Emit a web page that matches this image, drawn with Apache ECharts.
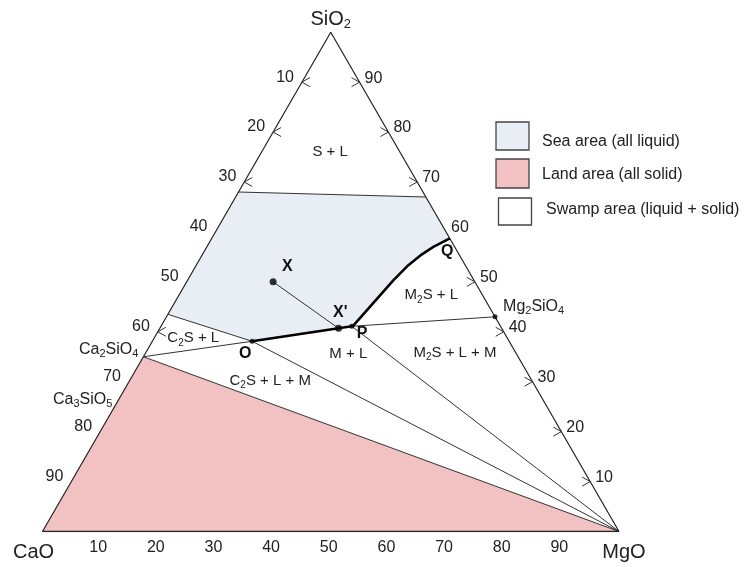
<!DOCTYPE html>
<html><head><meta charset="utf-8">
<script src="https://cdn.jsdelivr.net/npm/echarts@6/dist/echarts.min.js"></script>
<style>html,body{margin:0;padding:0;background:#fff}#c{width:748px;height:567px}</style>
</head><body><div id="c"></div>
<script>
// All compositions are [CaO, MgO, SiO2] in wt%
const vertexCaO = [100, 0, 0];
const vertexMgO = [0, 100, 0];
const vertexSiO2 = [0, 0, 100];
const ptCa2SiO4 = [65, 0, 35];
const ptCa3SiO5 = [73.7, 0, 26.3];
const ptMg2SiO4 = [0, 57, 43];
const ptX = [35.0, 15.0, 50.0];
const ptXp = [28.3, 31.0, 40.7];
const ptO = [44.6, 17.3, 38.1];
const ptP = [25.8, 33.1, 41.1];
const ptQ = [0, 41.3, 58.7];
const seaTopLeft = [32, 0, 68];
const seaTopRight = [0, 33, 67];
const seaLeftLow = [56.5, 0, 43.5];
// Liquidus curve from Q down to P (M2S / L boundary)
const curveQP = [[0, 41.3, 58.7], [3.7, 39.3, 57.0], [6.8, 37.9, 55.3], [10.2, 36.7, 53.1], [14.0, 35.7, 50.3], [17.8, 34.9, 47.3], [21.6, 34.1, 44.3], [25.4, 33.3, 41.3], [25.8, 33.1, 41.1]];
const tickValues = [10, 20, 30, 40, 50, 60, 70, 80, 90];
const leftArrowTicks = [10, 20, 30, 60];
const rightArrowTicks = [90, 80, 70, 50, 40, 30, 20, 10];
// region annotation anchors
const regionLabels = [
  ['{a|S + L}', [12.1, 11.9, 76.0]],
  ['{a|C}{b|2}{a|S + L}', [54.5, 6.8, 38.7]],
  ['{a|M}{b|2}{a|S + L}', [8.9, 43.8, 47.3]],
  ['{a|M + L}', [29.2, 35.3, 35.5]],
  ['{a|M}{b|2}{a|S + L + M}', [10.6, 53.7, 35.7]],
  ['{a|C}{b|2}{a|S + L + M}', [45.4, 24.4, 30.2]]
];
const pointLabels = [
  ['X', [31.0, 15.9, 53.1]],
  ["X'", [26.4, 29.7, 43.9]],
  ['Q', [1.8, 42.2, 56.0]],
  ['O', [47.0, 17.3, 35.7]],
  ['P', [24.7, 35.6, 39.7]]
];
const legendItems = ['Sea area (all liquid)', 'Land area (all solid)', 'Swamp area (liquid + solid)'];

const S3 = Math.sqrt(3) / 2;
function xy(p) { const t = p[0] + p[1] + p[2]; return [(p[1] + p[2] / 2) / t, p[2] * S3 / t]; }
const FONT = '"Liberation Sans", Arial, sans-serif';
const SEA = '#e9edf4', LAND = '#f2c2c3';

function polySeries(pts, fill, z) {
  return { type: 'custom', coordinateSystem: 'cartesian2d', silent: true, z: z, clip: false,
    data: [xy(pts[0])],
    renderItem: function (params, api) {
      return { type: 'polygon', shape: { points: pts.map(p => api.coord(xy(p))) }, style: { fill: fill, stroke: 'none' } };
    } };
}
function lineSeries(pts, width, color, z) {
  return { type: 'line', data: pts.map(xy), symbol: 'none', silent: true, z: z || 3,
    lineStyle: { width: width, color: color }, animation: false };
}
function chevronSeries(pts, dir) {
  return { type: 'custom', coordinateSystem: 'cartesian2d', silent: true, z: 5, clip: false,
    data: pts.map(xy),
    renderItem: function (params, api) {
      const c = api.coord([api.value(0), api.value(1)]);
      return { type: 'polyline', shape: { points: [[c[0] + dir * 8, c[1] - 4.5], [c[0], c[1]], [c[0] + dir * 8, c[1] + 4.5]] },
        style: { stroke: '#333', fill: 'none', lineWidth: 1 } };
    } };
}
function makeRich(big, small, pad) {
  return { a: { fontSize: big, fontFamily: FONT, fill: '#222', color: '#222' },
           b: { fontSize: small, fontFamily: FONT, fill: '#222', color: '#222', padding: [pad, 0, 0, 0] } };
}
const rich = makeRich(15, 10, 9);
const richCmp = makeRich(16, 11, 9);
const richBig = makeRich(20, 13, 11);

const texts = [];
function addText(p, text, o) { texts.push(Object.assign({ p: p, text: text, dx: 0, dy: 0, align: 'center', size: 15, weight: 'normal', color: '#222' }, o || {})); }
tickValues.forEach(v => {
  addText([v, 0, 100 - v], String(v), { size: 16, align: 'right', dx: -8, dy: -5 });
  addText([0, 100 - v, v], String(v), { size: 16, align: 'left', dx: 5, dy: -4 });
  addText([100 - v, v, 0], String(v), { size: 16, dx: -2, dy: 16 });
});
regionLabels.forEach(r => addText(r[1], r[0], { rich: rich }));
pointLabels.forEach(r => addText(r[1], r[0], { size: 16, weight: 'bold', color: '#111' }));
addText(vertexSiO2, '{a|SiO}{b|2}', { rich: richBig, dy: -13 });
addText(vertexCaO, 'CaO', { size: 20, dx: -9, dy: 21 });
addText(vertexMgO, 'MgO', { size: 20, dx: 5, dy: 21 });
addText(ptCa2SiO4, '{a|Ca}{b|2}{a|SiO}{b|4}', { rich: richCmp, align: 'right', dx: -5, dy: -7 });
addText(ptCa3SiO5, '{a|Ca}{b|3}{a|SiO}{b|5}', { rich: richCmp, align: 'right', dx: -6, dy: -1 });
addText(ptMg2SiO4, '{a|Mg}{b|2}{a|SiO}{b|4}', { rich: richCmp, align: 'left', dx: 8, dy: -10 });

const textSeries = { type: 'custom', coordinateSystem: 'cartesian2d', silent: true, z: 10, clip: false,
  data: texts.map(t => xy(t.p)),
  renderItem: function (params, api) {
    const t = texts[params.dataIndex];
    const c = api.coord([api.value(0), api.value(1)]);
    const style = { text: t.text, fill: t.color, align: t.align, verticalAlign: 'middle', textAlign: t.align, textVerticalAlign: 'middle',
      font: t.weight + ' ' + t.size + 'px ' + FONT };
    if (t.rich) style.rich = t.rich;
    return { type: 'text', x: c[0] + t.dx, y: c[1] + t.dy, style: style };
  } };

const seaPoly = [seaTopLeft, seaTopRight, ptQ].concat(curveQP.slice(1)).concat([ptXp, ptO, seaLeftLow]);

const option = {
  animation: false,
  backgroundColor: '#fff',
  grid: { left: 42.5, top: 32.2, width: 576.5, height: 499.3 },
  xAxis: { type: 'value', min: 0, max: 1, show: false },
  yAxis: { type: 'value', min: 0, max: S3, show: false },
  series: [
    polySeries([vertexCaO, ptCa2SiO4, vertexMgO], LAND, 1),
    polySeries(seaPoly, SEA, 1),
    lineSeries([vertexCaO, vertexMgO, vertexSiO2, vertexCaO], 1.2, '#222', 4),
    lineSeries([vertexCaO, vertexMgO], 1.6, '#222', 4),
    lineSeries([ptCa2SiO4, vertexMgO], 1, '#333'),
    lineSeries([seaTopLeft, seaTopRight], 1.1, '#333'),
    lineSeries([seaLeftLow, ptO], 1, '#333'),
    lineSeries([ptCa2SiO4, ptO], 1, '#333'),
    lineSeries([ptO, vertexMgO], 1, '#333'),
    lineSeries([ptP, vertexMgO], 1, '#333'),
    lineSeries([ptP, ptMg2SiO4], 1, '#333'),
    lineSeries([ptX, ptXp], 1, '#333'),
    lineSeries(curveQP, 2.6, '#000', 6),
    lineSeries([ptO, ptXp, ptP], 2.6, '#000', 6),
    chevronSeries(leftArrowTicks.map(v => [v, 0, 100 - v]), 1),
    chevronSeries(rightArrowTicks.map(v => [0, 100 - v, v]), -1),
    { type: 'scatter', silent: true, z: 8, symbolSize: 7, itemStyle: { color: '#000' },
      data: [ptX, ptXp].map(xy) },
    { type: 'scatter', silent: true, z: 8, symbolSize: 5, itemStyle: { color: '#000' },
      data: [ptO, ptP, ptMg2SiO4].map(xy) },
    textSeries
  ],
  graphic: [
    { type: 'rect', shape: { x: 496, y: 122, width: 33, height: 28 }, style: { fill: SEA, stroke: '#444', lineWidth: 1.3 } },
    { type: 'rect', shape: { x: 496, y: 159, width: 33, height: 29 }, style: { fill: LAND, stroke: '#444', lineWidth: 1.3 } },
    { type: 'rect', shape: { x: 498.5, y: 198, width: 33, height: 27 }, style: { fill: '#fff', stroke: '#444', lineWidth: 1.3 } },
    { type: 'text', x: 542, y: 142, style: { text: legendItems[0], font: '16px ' + FONT, fill: '#222', verticalAlign: 'middle', textVerticalAlign: 'middle' } },
    { type: 'text', x: 542, y: 175, style: { text: legendItems[1], font: '16px ' + FONT, fill: '#222', verticalAlign: 'middle', textVerticalAlign: 'middle' } },
    { type: 'text', x: 546, y: 210, style: { text: legendItems[2], font: '16px ' + FONT, fill: '#222', verticalAlign: 'middle', textVerticalAlign: 'middle' } }
  ]
};
echarts.init(document.getElementById('c'), null, { renderer: 'canvas' }).setOption(option);
</script></body></html>
